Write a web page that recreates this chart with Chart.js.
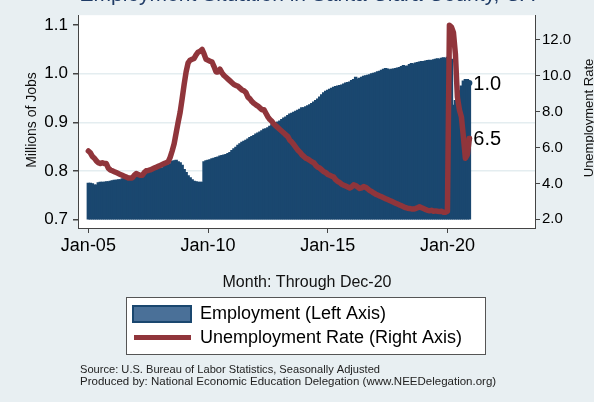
<!DOCTYPE html>
<html><head><meta charset="utf-8">
<script src="https://cdn.jsdelivr.net/npm/chart.js@4"></script>
<style>html,body{margin:0;padding:0;background:#e8eff2;}canvas{display:block}</style>
</head><body>
<canvas id="c" width="594" height="402"></canvas>
<script>
const titleText = "Employment Situation in Santa Clara County, CA";
const xAxisTitle = "Month: Through Dec-20";
const leftAxisTitle = "Millions of Jobs";
const rightAxisTitle = "Unemployment Rate";
const sourceLines = ["Source: U.S. Bureau of Labor Statistics, Seasonally Adjusted",
  "Produced by: National Economic Education Delegation (www.NEEDelegation.org)"];
const seriesNames = ["Employment (Left Axis)", "Unemployment Rate (Right Axis)"];

// month index 0 = Jan-05 ... 191 = Dec-20
const xTickPositions = [0, 60, 120, 180];
const xTickLabels = ["Jan-05", "Jan-10", "Jan-15", "Jan-20"];
const leftTicks = [0.7, 0.8, 0.9, 1.0, 1.1];
const rightTicks = [2, 4, 6, 8, 10, 12];

// Employment, millions of jobs (left axis)
const employment = [
  0.775,0.775,0.774,0.771,0.771,0.776,0.777,0.777,0.777,0.778,0.778,0.779,
  0.780,0.781,0.781,0.782,0.782,0.784,0.785,0.785,0.786,0.786,0.787,0.788,
  0.790,0.791,0.792,0.793,0.796,0.799,0.801,0.801,0.802,0.803,0.804,0.804,
  0.805,0.806,0.810,0.812,0.813,0.815,0.820,0.821,0.822,0.819,0.817,0.812,
  0.803,0.797,0.790,0.786,0.782,0.779,0.778,0.777,0.777,0.777,0.819,0.821,
  0.822,0.823,0.825,0.826,0.828,0.829,0.831,0.832,0.833,0.834,0.836,0.838,
  0.842,0.846,0.849,0.853,0.856,0.859,0.861,0.863,0.866,0.869,0.871,0.873,
  0.876,0.878,0.880,0.883,0.886,0.887,0.889,0.892,0.895,0.897,0.899,0.901,
  0.903,0.906,0.909,0.911,0.914,0.917,0.919,0.921,0.923,0.925,0.927,0.930,
  0.930,0.932,0.934,0.936,0.939,0.942,0.945,0.948,0.952,0.957,0.961,0.964,
  0.966,0.968,0.970,0.972,0.974,0.975,0.976,0.977,0.979,0.981,0.982,0.983,
  0.986,0.988,0.993,0.989,0.991,0.993,0.995,0.996,0.997,0.998,1.000,1.001,
  1.002,1.004,1.005,1.007,1.009,1.011,1.010,1.008,1.009,1.010,1.011,1.012,
  1.013,1.015,1.017,1.015,1.016,1.019,1.021,1.020,1.022,1.023,1.024,1.025,
  1.025,1.026,1.027,1.028,1.027,1.029,1.030,1.031,1.030,1.032,1.033,1.032,
  1.034,1.036,1.030,0.935,0.945,0.955,0.965,0.975,0.985,0.988,0.988,0.981
];

// Unemployment rate, % (right axis)
const unemployment = [
  5.8,5.7,5.5,5.4,5.25,5.15,5.1,5.15,5.1,5.1,4.85,4.75,
  4.7,4.65,4.6,4.55,4.5,4.45,4.4,4.35,4.3,4.3,4.3,4.45,
  4.55,4.5,4.45,4.45,4.6,4.7,4.72,4.75,4.8,4.85,4.9,4.95,
  5.0,5.05,5.1,5.15,5.2,5.45,5.8,6.2,6.8,7.4,7.95,8.7,
  9.5,10.2,10.7,10.85,10.9,10.95,11.15,11.3,11.35,11.45,11.2,10.9,
  10.85,10.8,10.75,10.5,10.2,10.2,10.35,10.15,10.0,9.9,9.8,9.7,
  9.6,9.5,9.45,9.4,9.3,9.2,9.15,9.05,8.8,8.7,8.55,8.45,
  8.37,8.3,8.2,8.1,8.1,7.9,7.7,7.55,7.45,7.3,7.2,7.1,
  7.0,6.9,6.8,6.7,6.6,6.4,6.3,6.15,6.0,5.85,5.75,5.6,
  5.5,5.4,5.35,5.28,5.2,5.15,5.0,4.9,4.85,4.75,4.65,4.6,
  4.5,4.45,4.4,4.35,4.2,4.1,4.05,3.95,3.9,3.85,3.8,3.75,
  3.8,3.92,3.88,3.8,3.72,3.75,3.82,3.78,3.7,3.6,3.55,3.47,
  3.4,3.35,3.3,3.25,3.2,3.15,3.1,3.05,3.0,2.95,2.9,2.85,
  2.8,2.75,2.7,2.65,2.62,2.6,2.58,2.57,2.6,2.65,2.7,2.65,
  2.6,2.55,2.5,2.48,2.5,2.45,2.47,2.45,2.43,2.45,2.4,2.4,
  2.45,12.8,12.7,12.4,11.2,8.8,8.1,7.7,6.6,5.4,5.6,6.5
];

const FONT = "'Liberation Sans', Arial, Helvetica, sans-serif";
const BLUE = '#1a476f';
const RED = '#90353b';
const BG = '#e8eff2';
const AXIS = '#444444';

const extras = {
  id: 'extras',
  beforeDraw(chart) {
    const ctx = chart.ctx, a = chart.chartArea;
    ctx.save();
    ctx.fillStyle = BG;
    ctx.fillRect(0, 0, chart.width, chart.height);
    ctx.fillStyle = '#ffffff';
    ctx.fillRect(a.left, a.top, a.right - a.left, a.bottom - a.top);
    ctx.restore();
  },
  afterDatasetsDraw(chart) {
    const ctx = chart.ctx;
    const xs = chart.scales.x, yl = chart.scales.y, yr = chart.scales.y1;
    const li = employment.length - 1, ui = unemployment.length - 1;
    const ex = xs.getPixelForValue(li), ey = yl.getPixelForValue(employment[li]);
    const ux = xs.getPixelForValue(ui), uy = yr.getPixelForValue(unemployment[ui]);
    ctx.save();
    ctx.fillStyle = BLUE;
    ctx.beginPath(); ctx.arc(ex, ey, 3, 0, Math.PI * 2); ctx.fill();
    ctx.fillStyle = RED;
    ctx.beginPath(); ctx.arc(ux, uy, 2.8, 0, Math.PI * 2); ctx.fill();
    ctx.fillStyle = '#000';
    ctx.font = '20px ' + FONT;
    ctx.textBaseline = 'middle';
    ctx.textAlign = 'left';
    ctx.fillText(employment[li].toFixed(1), ex + 4, ey + 1);
    ctx.fillText(unemployment[ui].toFixed(1), ux + 4, uy + 1);
    ctx.restore();
  },
  afterDraw(chart) {
    const ctx = chart.ctx;
    ctx.save();
    // title (clipped at top in the reference)
    ctx.fillStyle = '#1f3b66';
    ctx.font = '21px ' + FONT;
    ctx.textAlign = 'center';
    ctx.textBaseline = 'alphabetic';
    ctx.fillText(titleText, 307, 1);
    // axis titles
    ctx.fillStyle = '#111';
    ctx.font = '14px ' + FONT;
    ctx.textBaseline = 'middle';
    ctx.save(); ctx.translate(32, 120); ctx.rotate(-Math.PI / 2);
    ctx.fillText(leftAxisTitle, 0, 0); ctx.restore();
    ctx.font = '13px ' + FONT;
    ctx.save(); ctx.translate(589, 118); ctx.rotate(-Math.PI / 2);
    ctx.fillText(rightAxisTitle, 0, 0); ctx.restore();
    ctx.font = '16px ' + FONT;
    ctx.fillText(xAxisTitle, 307, 283);
    // legend
    ctx.fillStyle = '#ffffff';
    ctx.fillRect(126, 297, 360, 58);
    ctx.strokeStyle = '#555';
    ctx.lineWidth = 1;
    ctx.strokeRect(126.5, 297.5, 359, 57);
    ctx.fillStyle = '#4a7098';
    ctx.fillRect(133, 306, 58, 16);
    ctx.strokeStyle = BLUE; ctx.lineWidth = 2;
    ctx.strokeRect(133, 306, 58, 16);
    ctx.fillStyle = RED;
    ctx.fillRect(134, 335, 57, 5);
    ctx.fillStyle = '#000';
    ctx.font = '18px ' + FONT;
    ctx.textAlign = 'left';
    ctx.fillText(seriesNames[0], 200, 314);
    ctx.fillText(seriesNames[1], 200, 338);
    // source
    ctx.font = '11.5px ' + FONT;
    ctx.fillStyle = '#222';
    ctx.fillText(sourceLines[0], 80, 370, 300);
    ctx.fillText(sourceLines[1], 80, 382, 428);
    ctx.restore();
  }
};

new Chart(document.getElementById('c'), {
  type: 'bar',
  data: {
    datasets: [
      {
        type: 'line', label: seriesNames[1], yAxisID: 'y1', order: 0,
        data: unemployment.map((v, i) => ({ x: i, y: v })),
        borderColor: RED, borderWidth: 5.5, pointRadius: 0, tension: 0,
        borderJoinStyle: 'round', borderCapStyle: 'round', fill: false
      },
      {
        type: 'bar', label: seriesNames[0], yAxisID: 'y', order: 1,
        data: employment.map((v, i) => ({ x: i, y: v })),
        backgroundColor: BLUE, borderWidth: 0, base: 0.7,
        barPercentage: 1.25, categoryPercentage: 1, inflateAmount: 0.5
      }
    ]
  },
  options: {
    responsive: false, animation: false, devicePixelRatio: 1,
    layout: { padding: { top: 7, left: 0, right: 0, bottom: 0 } },
    plugins: { legend: { display: false }, tooltip: { enabled: false }, title: { display: false } },
    scales: {
      x: {
        type: 'linear', min: -5.2, max: 223.9, offset: false,
        afterFit(s) { s.height = 174; },
        afterBuildTicks(s) { s.ticks = xTickPositions.map(v => ({ value: v })); },
        ticks: {
          callback: v => xTickLabels[xTickPositions.indexOf(v)],
          font: { size: 18, family: FONT }, color: '#000', padding: 2,
          maxRotation: 0, autoSkip: false
        },
        grid: { display: true, offset: false, drawOnChartArea: false, drawTicks: true, tickLength: 5, color: AXIS, tickColor: AXIS },
        border: { display: true, color: AXIS, width: 1 }
      },
      y: {
        position: 'left', min: 0.6828, max: 1.1204,
        afterFit(s) { s.width = 78; },
        afterBuildTicks(s) { s.ticks = leftTicks.map(v => ({ value: v })); },
        ticks: { callback: v => v.toFixed(1), font: { size: 17, family: FONT }, color: '#000', padding: 5 },
        grid: {
          display: true, drawOnChartArea: true, drawTicks: true, tickLength: 5, tickColor: AXIS,
          color: ctx => (ctx.tick && (ctx.tick.value === 0.7 || ctx.tick.value === 1.1)) ? 'rgba(0,0,0,0)' : '#e4edf0',
          lineWidth: 1.5
        },
        border: { display: true, color: AXIS, width: 1 }
      },
      y1: {
        position: 'right', min: 1.518, max: 13.355,
        afterFit(s) { s.width = 59; },
        afterBuildTicks(s) { s.ticks = rightTicks.map(v => ({ value: v })); },
        ticks: { callback: v => v.toFixed(1), font: { size: 15, family: FONT }, color: '#000', padding: 2 },
        grid: { display: true, drawOnChartArea: false, drawTicks: true, tickLength: 5, color: AXIS, tickColor: AXIS },
        border: { display: true, color: AXIS, width: 1 }
      }
    }
  },
  plugins: [extras]
});
</script>
</body></html>
